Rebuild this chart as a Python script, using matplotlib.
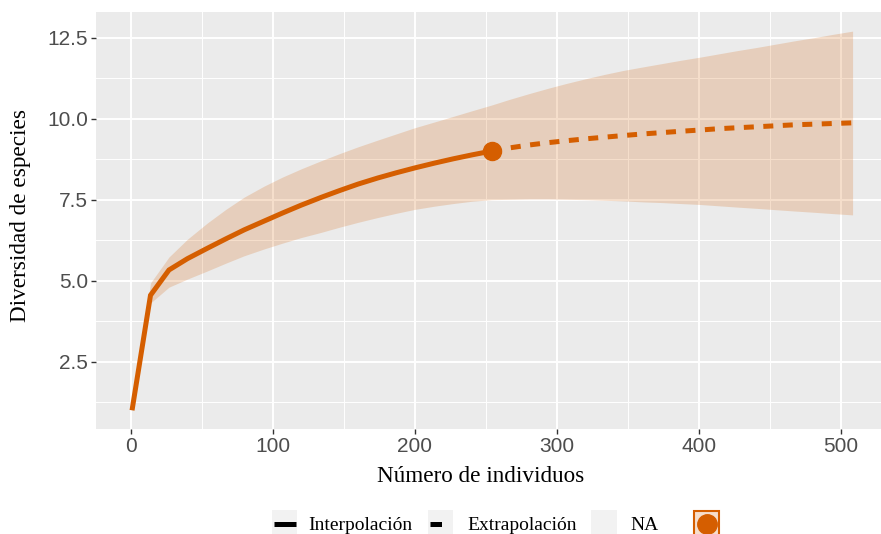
import matplotlib
matplotlib.use("Agg")
import matplotlib.pyplot as plt
from matplotlib.lines import Line2D
from matplotlib.patches import Rectangle
from matplotlib.ticker import MultipleLocator

# ---------------- data ----------------
m_interp = [1, 14, 27, 40, 54, 67, 80, 94, 107, 120, 134, 147, 160, 174, 187,
            200, 214, 227, 240, 254]
qd_interp = [1.0, 4.55, 5.33, 5.68, 6.00, 6.29, 6.57, 6.84, 7.09, 7.33, 7.57,
             7.78, 7.98, 8.17, 8.33, 8.48, 8.63, 8.76, 8.88, 9.00]
lo_interp = [1.0, 4.31, 4.80, 5.05, 5.30, 5.54, 5.77, 5.98, 6.16, 6.33, 6.49,
             6.65, 6.80, 6.95, 7.08, 7.20, 7.30, 7.38, 7.45, 7.50]
hi_interp = [1.0, 4.93, 5.73, 6.28, 6.78, 7.20, 7.58, 7.92, 8.20, 8.45, 8.70,
             8.92, 9.13, 9.34, 9.53, 9.72, 9.90, 10.07, 10.24, 10.42]

m_extrap = [254, 267, 281, 294, 307, 321, 334, 347, 361, 374, 387, 401, 414,
            427, 441, 454, 467, 481, 494, 508]
qd_extrap = [9.00, 9.10, 9.19, 9.26, 9.32, 9.38, 9.43, 9.48, 9.53, 9.57, 9.61,
             9.65, 9.69, 9.72, 9.75, 9.78, 9.81, 9.83, 9.85, 9.87]
lo_extrap = [7.50, 7.51, 7.52, 7.52, 7.51, 7.50, 7.48, 7.46, 7.43, 7.41, 7.38,
             7.35, 7.31, 7.27, 7.23, 7.19, 7.15, 7.11, 7.07, 7.03]
hi_extrap = [10.42, 10.60, 10.78, 10.94, 11.09, 11.24, 11.37, 11.49, 11.60,
             11.70, 11.80, 11.90, 12.00, 12.10, 12.20, 12.30, 12.40, 12.50,
             12.60, 12.70]

obs_m = 254
obs_qd = 9.0

x_ticks = [0, 100, 200, 300, 400, 500]
y_ticks = [2.5, 5.0, 7.5, 10.0, 12.5]
y_tick_labels = ["2.5", "5.0", "7.5", "10.0", "12.5"]
legend_labels = ["Interpolación", "Extrapolación", "NA"]

xlabel = "Número de individuos"
ylabel = "Diversidad de especies"

# ---------------- style ----------------
ORANGE = "#D55E00"
PANEL = "#EBEBEB"
W, H = 881, 534

fig = plt.figure(figsize=(W / 100, H / 100), dpi=100)
fig.patch.set_facecolor("white")

ax = fig.add_axes([96 / W, (H - 429.3) / H, (888.6 - 96) / W, (429.3 - 11.7) / H])
ax.set_facecolor(PANEL)
for s in ax.spines.values():
    s.set_visible(False)

ax.set_xlim(-24.35, 533.35)
ax.set_ylim(0.414, 13.30)
ax.set_xticks(x_ticks)
ax.set_yticks(y_ticks)
ax.xaxis.set_minor_locator(MultipleLocator(50))
ax.set_yticks([1.25, 3.75, 6.25, 8.75, 11.25], minor=True)
ax.set_axisbelow(True)
ax.grid(which="major", color="white", linewidth=1.4)
ax.grid(which="minor", color="white", linewidth=0.7)
ax.tick_params(which="minor", length=0)
ax.tick_params(which="major", length=3.6, width=1.0, color="#333333",
               labelcolor="#4D4D4D", labelsize=15, pad=2)
ax.set_yticklabels(y_tick_labels)
ax.set_xticklabels([str(v) for v in x_ticks])
for lab in ax.get_xticklabels() + ax.get_yticklabels():
    lab.set_family("Liberation Sans")

# ribbon (single polygon)
m_all = m_interp + m_extrap[1:]
lo_all = lo_interp + lo_extrap[1:]
hi_all = hi_interp + hi_extrap[1:]
ax.fill_between(m_all, lo_all, hi_all, color=ORANGE, alpha=0.2, linewidth=0)

ax.plot(m_interp, qd_interp, color=ORANGE, lw=3.6, solid_capstyle="butt",
        solid_joinstyle="miter")
ax.plot(m_extrap, qd_extrap, color=ORANGE, lw=3.6, linestyle=(0, (2.0, 1.9)),
        dash_capstyle="butt")
ax.plot([obs_m], [obs_qd], "o", color=ORANGE, markersize=13, zorder=5)

fig.text(481 / W, 1 - 477 / H, xlabel, family="Liberation Serif", fontsize=16.7,
         ha="center", va="center")
fig.text(21 / W, 1 - 216 / H, ylabel, family="Liberation Serif", fontsize=16.7,
         ha="center", va="center", rotation=90)


# ---------------- legend (bottom) ----------------
def fx(px):
    return px / W


def fy(py):
    return 1 - py / H


key_top, key_bot = 510, 546
yc = 524
keys = [(272, 297), (428, 453), (591, 617)]
for (x0, x1) in keys:
    fig.patches.append(Rectangle((fx(x0), fy(key_bot)), fx(x1) - fx(x0),
                                 fy(key_top) - fy(key_bot),
                                 transform=fig.transFigure,
                                 facecolor="#F2F2F2", edgecolor="none"))
# key 1: solid line
fig.add_artist(Line2D([fx(274), fx(296)], [fy(yc), fy(yc)], color="black",
                      lw=3.6, solid_capstyle="butt", transform=fig.transFigure))
# key 2: dashed line
fig.add_artist(Line2D([fx(430), fx(453)], [fy(yc), fy(yc)], color="black",
                      lw=3.6, linestyle=(0, (2.3, 2.3)), dash_capstyle="butt",
                      transform=fig.transFigure))
# key 4: point with orange border
fig.patches.append(Rectangle((fx(694), fy(key_bot)), fx(719) - fx(694),
                             fy(key_top + 1) - fy(key_bot),
                             transform=fig.transFigure,
                             facecolor=(213 / 255, 94 / 255, 0, 0.2),
                             edgecolor=ORANGE, linewidth=1.5))
fig.add_artist(Line2D([fx(706.5)], [fy(yc)], marker="o", color=ORANGE,
                      markersize=14, linestyle="none",
                      transform=fig.transFigure))

text_x = [308, 467, 630]
for tx, lab in zip(text_x, legend_labels):
    fig.text(fx(tx), fy(530), lab, family="Liberation Serif", fontsize=14,
             ha="left", va="baseline")

fig.savefig("out.png", dpi=100)
